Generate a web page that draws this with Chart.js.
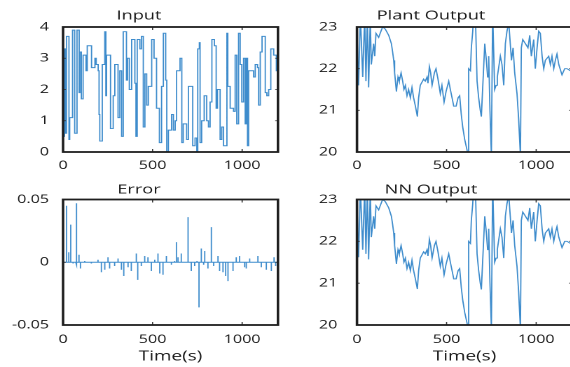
<!DOCTYPE html>
<html>
<head>
<meta charset="utf-8">
<script src="https://cdn.jsdelivr.net/npm/chart.js@4.4.1/dist/chart.umd.min.js"></script>
<style>
    html, body { margin: 0; padding: 0; background: #fff; overflow: hidden; width: 570px; height: 367px; }
    .panel { position: absolute; width: 207px; transform-origin: 0 0; transform: scaleX(1.401); }
</style>
</head>
<body>
<div class="panel" style="left:0;top:0;height:176px"><canvas id="input-chart"></canvas></div>
<div class="panel" style="left:290px;top:0;height:176px"><canvas id="plant-chart"></canvas></div>
<div class="panel" style="left:0;top:176px;height:191px"><canvas id="error-chart"></canvas></div>
<div class="panel" style="left:290px;top:176px;height:191px"><canvas id="nn-chart"></canvas></div>
<script>
// --- DATA ---
const X_MAX = 1200;
const timeTicks = [0, 500, 1000];
const inputTicks = [0, 1, 2, 3, 4];
const outputTicks = [20, 21, 22, 23];
const errorTicks = [-0.05, 0, 0.05];

// input is a staircase: value holds from each time to the next
const inputTime = [0, 4, 8, 12, 19, 33, 37, 53, 65, 78, 90, 94, 102, 112, 128, 135, 159, 178, 185, 196,
    201, 205, 219, 233, 239, 243, 265, 280, 289, 307, 317, 327, 336, 354, 360, 370, 383, 401, 407, 414,
    429, 438, 448, 457, 467, 476, 495, 508, 522, 538, 550, 560, 573, 579, 588, 606, 616, 626, 634, 653,
    663, 671, 690, 700, 724, 737, 747, 752, 761, 765, 774, 788, 802, 812, 821, 831, 845, 855, 862, 877,
    886, 896, 915, 920, 933, 952, 961, 970, 980, 989, 998, 1008, 1017, 1023, 1030, 1036, 1064, 1073, 1086, 1092,
    1101, 1111, 1129, 1138, 1148, 1160, 1176, 1191, 1200];
const inputValue = [3.2, 0.5, 3.3, 0.6, 3.7, 0.4, 1.1, 3.9, 0.6, 3.9, 1.9, 3.2, 1.7, 3.1, 2.6, 3.4, 2.7, 3.0, 2.8, 2.6,
    1.2, 0.35, 2.8, 3.85, 1.8, 3.1, 0.75, 1.8, 2.8, 1.1, 2.6, 0.5, 3.85, 2.3, 3.0, 2.0, 3.6, 2.2, 0.5, 3.6,
    3.3, 3.7, 0.8, 2.5, 1.5, 2.1, 3.6, 3.0, 1.4, 0.3, 2.1, 3.8, 2.3, 0.0, 0.7, 1.2, 0.7, 1.0, 2.6, 3.0,
    0.3, 0.9, 0.4, 2.1, 0.2, 0.45, 0.0, 3.3, 3.5, 0.3, 1.0, 1.8, 1.0, 0.8, 1.6, 3.6, 3.4, 1.4, 2.0, 0.4,
    0.8, 0.2, 3.8, 2.1, 1.4, 1.3, 3.1, 0.9, 3.8, 2.8, 1.6, 3.0, 0.9, 3.0, 0.2, 2.6, 2.4, 2.8, 2.7, 1.5,
    3.2, 3.7, 1.9, 1.8, 2.0, 3.3, 3.1, 2.6, 2.6];

const plantTime = [0, 9, 19, 32, 43, 50, 58, 65, 74, 80, 93, 99, 106, 121, 134, 143, 158, 177, 192, 199,
    205, 210, 220, 229, 236, 246, 255, 262, 270, 279, 288, 298, 307, 316, 326, 337, 344, 353, 372, 381,
    391, 396, 404, 411, 419, 432, 441, 452, 465, 474, 486, 497, 512, 521, 540, 553, 564, 573, 582, 590,
    601, 614, 620, 623, 633, 638, 646, 651, 660, 670, 679, 688, 694, 701, 713, 722, 729, 735, 742, 750,
    757, 768, 776, 783, 800, 809, 819, 828, 837, 847, 862, 871, 880, 893, 902, 912, 917, 925, 940, 954,
    964, 973, 986, 995, 1005, 1014, 1023, 1033, 1042, 1051, 1070, 1079, 1088, 1098, 1107, 1116, 1126, 1144, 1159, 1172,
    1191, 1200];
const plantValue = [22.9, 21.6, 23.3, 21.8, 23.3, 21.7, 23.3, 21.55, 23.2, 22.1, 22.6, 22.3, 22.85, 22.75, 22.9, 23.0, 22.95, 22.8, 22.6, 22.4,
    22.2, 21.9, 21.45, 21.8, 21.7, 21.9, 21.7, 21.5, 21.6, 21.35, 21.5, 21.3, 21.55, 21.3, 21.1, 20.85, 21.3, 21.6, 21.75, 21.7,
    21.8, 21.65, 22.05, 21.9, 21.6, 21.9, 22.0, 21.75, 21.4, 21.6, 21.2, 21.45, 21.7, 21.5, 21.1, 21.1, 21.3, 21.35, 20.9, 20.6,
    20.3, 20.05, 19.9, 22.0, 21.95, 22.5, 22.9, 23.3, 23.4, 21.7, 21.3, 21.0, 20.85, 21.5, 22.6, 22.2, 21.8, 22.3, 21.0, 19.9,
    23.4, 21.5, 21.6, 21.8, 22.3, 22.1, 21.6, 22.6, 22.9, 23.1, 22.2, 22.5, 21.9, 21.4, 20.8, 19.9, 22.5, 22.7, 22.6, 22.5,
    22.8, 22.3, 22.7, 22.0, 22.5, 22.9, 22.85, 22.3, 22.0, 22.2, 22.3, 22.1, 22.3, 22.0, 22.2, 22.35, 22.1, 21.85, 22.0, 22.0,
    21.95, 21.95];
const nnValue = [22.9, 21.62, 23.3, 21.8, 23.3, 21.7, 23.3, 21.57, 23.2, 22.1, 22.6, 22.3, 22.85, 22.75, 22.9, 23.0, 22.95, 22.8, 22.6, 22.4,
    22.2, 21.9, 21.46, 21.8, 21.7, 21.9, 21.7, 21.5, 21.6, 21.35, 21.5, 21.3, 21.55, 21.3, 21.1, 20.86, 21.3, 21.6, 21.75, 21.7,
    21.8, 21.65, 22.05, 21.9, 21.6, 21.9, 22.0, 21.75, 21.4, 21.6, 21.2, 21.45, 21.7, 21.5, 21.1, 21.1, 21.3, 21.35, 20.9, 20.6,
    20.3, 20.05, 19.9, 22.0, 21.95, 22.5, 22.9, 23.3, 23.4, 21.7, 21.3, 21.0, 20.85, 21.5, 22.6, 22.2, 21.8, 22.3, 21.0, 19.9,
    23.4, 21.5, 21.6, 21.8, 22.3, 22.1, 21.6, 22.6, 22.9, 23.1, 22.2, 22.5, 21.9, 21.4, 20.8, 19.9, 22.5, 22.7, 22.6, 22.5,
    22.8, 22.3, 22.7, 22.0, 22.5, 22.9, 22.85, 22.3, 22.0, 22.2, 22.3, 22.1, 22.3, 22.0, 22.2, 22.35, 22.1, 21.85, 22.0, 22.0,
    21.95, 21.95];

// error: short spikes around zero
const errorTime = [19, 32, 43, 56, 71, 78, 89, 97, 121, 158, 195, 214, 233, 251, 260, 288, 307, 326, 339, 363,
    381, 409, 417, 437, 456, 474, 493, 512, 530, 540, 558, 577, 605, 623, 633, 642, 660, 698, 716, 735,
    748, 759, 772, 785, 791, 809, 828, 841, 865, 874, 893, 908, 921, 949, 967, 986, 1014, 1023, 1042, 1088,
    1107, 1135, 1163, 1178, 1187];
const errorValue = [0.045, 0.008, 0.030, -0.001, 0.047, -0.002, 0.006, -0.005, 0.001, -0.001, 0.002, -0.008, -0.006, 0.004, -0.005, -0.003, 0.003, -0.006, -0.011, -0.004,
    -0.007, 0.007, -0.014, -0.003, 0.005, 0.004, -0.007, 0.002, 0.007, -0.009, -0.010, 0.005, -0.002, 0.001, 0.016, 0.004, 0.007, 0.036, -0.007, -0.003,
    0.001, -0.036, 0.011, -0.002, 0.009, -0.005, 0.028, -0.003, 0.005, -0.007, -0.008, -0.011, -0.015, -0.007, 0.004, 0.005, -0.004, -0.005, 0.003, 0.005,
    -0.004, -0.006, -0.007, 0.004, -0.003];

// --- CONFIG ---
const FONT = "'Open Sans', sans-serif";
const LINE_COLOR = 'rgb(62, 140, 204)';
const TEXT_COLOR = '#1a1a1a';

// box round the plot area plus small inward ticks, matlab style
const framePlugin = {
    id: 'frame',
    afterDatasetsDraw(chart) {
        const { ctx, chartArea: a, scales: { x, y } } = chart;
        ctx.save();
        ctx.strokeStyle = '#333';
        ctx.lineWidth = 0.8;
        ctx.beginPath();
        x.ticks.forEach(t => {
            const px = x.getPixelForValue(t.value);
            ctx.moveTo(px, a.bottom); ctx.lineTo(px, a.bottom - 3);
            ctx.moveTo(px, a.top); ctx.lineTo(px, a.top + 3);
        });
        y.ticks.forEach(t => {
            const py = y.getPixelForValue(t.value);
            ctx.moveTo(a.left, py); ctx.lineTo(a.left + 2, py);
            ctx.moveTo(a.right, py); ctx.lineTo(a.right - 2, py);
        });
        ctx.stroke();
        ctx.strokeStyle = '#1e1e1e';
        ctx.lineWidth = 1.8;
        ctx.strokeRect(a.left, a.top, a.right - a.left, a.bottom - a.top);
        ctx.restore();
    }
};

function toPoints(times, values) {
    return times.map((t, i) => ({ x: t, y: values[i] }));
}

function spikePoints(times, values) {
    const pts = [{ x: 0, y: 0 }];
    times.forEach((t, i) => pts.push({ x: t, y: 0 }, { x: t, y: values[i] }, { x: t, y: 0 }));
    pts.push({ x: X_MAX, y: 0 });
    return pts;
}

function makeChart(id, opts) {
    const ctx = document.getElementById(id).getContext('2d');
    return new Chart(ctx, {
        type: 'line',
        data: {
            datasets: [{
                data: opts.points,
                borderColor: LINE_COLOR,
                borderWidth: 0.9,
                pointRadius: 0,
                tension: 0,
                stepped: opts.stepped || false,
            }]
        },
        options: {
            responsive: true,
            maintainAspectRatio: false,
            animation: false,
            devicePixelRatio: 2,
            layout: { padding: { left: 0, right: opts.padRight, top: 0, bottom: 0 } },
            plugins: {
                legend: { display: false },
                tooltip: { enabled: false },
                title: {
                    display: true,
                    text: opts.title,
                    color: TEXT_COLOR,
                    font: { family: FONT, size: 13, weight: 'normal', lineHeight: '16px' },
                    padding: opts.titlePad,
                }
            },
            scales: {
                x: {
                    type: 'linear',
                    min: 0,
                    max: X_MAX,
                    afterBuildTicks: s => { s.ticks = timeTicks.map(v => ({ value: v })); },
                    afterFit: s => { s.height = opts.xHeight; },
                    grid: { display: false, drawTicks: false },
                    border: { display: false },
                    ticks: {
                        color: TEXT_COLOR,
                        padding: opts.xPad,
                        maxRotation: 0,
                        font: { family: FONT, size: 11.5 },
                        callback: v => String(v),
                    },
                    title: {
                        display: !!opts.xTitle,
                        text: opts.xTitle || '',
                        color: TEXT_COLOR,
                        font: { family: FONT, size: 13.5 },
                        padding: { top: 0, bottom: 2 },
                    }
                },
                y: {
                    min: opts.yTicks[0],
                    max: opts.yTicks[opts.yTicks.length - 1],
                    afterBuildTicks: s => { s.ticks = opts.yTicks.map(v => ({ value: v })); },
                    afterFit: s => { s.width = opts.yWidth; },
                    grid: { display: false, drawTicks: false },
                    border: { display: false },
                    ticks: {
                        color: TEXT_COLOR,
                        padding: opts.yPad,
                        font: { family: FONT, size: 11.5 },
                        callback: v => (Math.abs(v) < 1e-9 ? '0' : String(+v.toFixed(2))),
                    }
                }
            }
        },
        plugins: [framePlugin]
    });
}

// --- INITIALIZATION ---
const leftCol = { yWidth: 45, padRight: 8.6, yPad: 10 };
const rightCol = { yWidth: 47.8, padRight: 5.7, yPad: 14 };
const topRow = { titlePad: { top: 8, bottom: 3 }, xHeight: 24, xPad: 7 };
const bottomRow = { titlePad: { top: 6, bottom: 1.5 }, xHeight: 42, xPad: 8, xTitle: 'Time(s)' };

makeChart('input-chart', { ...leftCol, ...topRow, title: 'Input', yTicks: inputTicks,
    points: toPoints(inputTime, inputValue), stepped: true });
makeChart('plant-chart', { ...rightCol, ...topRow, title: 'Plant Output', yTicks: outputTicks,
    points: toPoints(plantTime, plantValue) });
makeChart('error-chart', { ...leftCol, ...bottomRow, title: 'Error', yTicks: errorTicks,
    points: spikePoints(errorTime, errorValue) });
makeChart('nn-chart', { ...rightCol, ...bottomRow, title: 'NN Output', yTicks: outputTicks,
    points: toPoints(plantTime, nnValue) });
</script>
</body>
</html>
